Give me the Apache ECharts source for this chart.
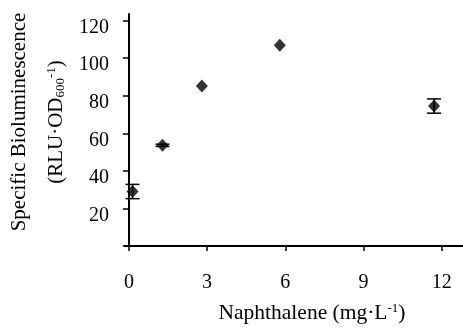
<!DOCTYPE html>
<html>
<head>
<meta charset="utf-8">
<script src="https://cdn.jsdelivr.net/npm/echarts@6/dist/echarts.min.js"></script>
<style>
  html, body { margin: 0; padding: 0; background: #fff; }
  #chart { width: 463px; height: 329px; }
</style>
</head>
<body>
<div id="chart"></div>
<script>
// naphthalene concentration (mg/L) and specific bioluminescence
const naphthalene = [0.14, 1.29, 2.8, 5.79, 11.71];
const bioluminescence = [29.0, 53.6, 85.2, 106.9, 74.5];
const errors = [3.8, 0.6, 0, 0, 3.8];
const xTicks = [0, 3, 6, 9, 12];
const yTicks = [0, 20, 40, 60, 80, 100, 120];

const font = 'Liberation Serif, Times New Roman, serif';

const chart = echarts.init(document.getElementById('chart'));

const points = naphthalene.map((x, i) => [x, bioluminescence[i]]);
const errData = naphthalene
  .map((x, i) => [x, bioluminescence[i] - errors[i], bioluminescence[i] + errors[i]])
  .filter((d, i) => errors[i] > 0);

chart.setOption({
  animation: false,
  backgroundColor: '#fff',
  grid: { left: 125, right: 0, top: 14, bottom: 76 },
  xAxis: {
    type: 'value',
    min: -0.15,
    max: 12.82,
    splitLine: { show: false },
    axisLine: { lineStyle: { color: '#000', width: 2 } },
    axisTick: { customValues: xTicks, length: 5, lineStyle: { color: '#000', width: 1.5 } },
    axisLabel: {
      customValues: xTicks,
      margin: 27,
      color: '#000',
      fontFamily: font,
      fontSize: 20
    },
    name: '{a|Naphthalene (mg·L}{sup|-1}{a|)}',
    nameLocation: 'middle',
    nameGap: 56,
    nameTextStyle: {
      padding: [0, 0, 0, 36],
      rich: {
        a: { fontFamily: font, fontSize: 21.5, color: '#000', lineHeight: 22 },
        sup: { fontFamily: font, fontSize: 13, color: '#000', lineHeight: 13, verticalAlign: 'top' }
      }
    }
  },
  yAxis: {
    type: 'value',
    min: 0,
    max: 123.5,
    splitLine: { show: false },
    axisLine: { lineStyle: { color: '#000', width: 2 } },
    axisTick: { customValues: yTicks, length: 6, lineStyle: { color: '#000', width: 1.5 } },
    axisLabel: {
      customValues: yTicks.slice(1),
      margin: 16,
      verticalAlign: 'top',
      lineHeight: 14,
      color: '#000',
      fontFamily: font,
      fontSize: 20
    },
    name: '{a|Specific Bioluminescence}\n{b|(RLU·OD}{sub|600}{sup|-1}{b|)}',
    nameLocation: 'middle',
    nameRotate: 90,
    nameGap: 58,
    nameTextStyle: {
      padding: [0, 0, 0, 16],
      rich: {
        a: { fontFamily: font, fontSize: 21, color: '#000', lineHeight: 52 },
        b: { fontFamily: font, fontSize: 21, color: '#000', lineHeight: 22 },
        sub: { fontFamily: font, fontSize: 13, color: '#000', lineHeight: 13, verticalAlign: 'bottom' },
        sup: { fontFamily: font, fontSize: 13, color: '#000', lineHeight: 13, verticalAlign: 'top' }
      }
    }
  },
  series: [
    {
      type: 'custom',
      data: errData,
      z: 1,
      renderItem: (params, api) => {
        const x = api.value(0);
        const lo = api.coord([x, api.value(1)]);
        const hi = api.coord([x, api.value(2)]);
        const half = 7;
        const style = { stroke: '#000', lineWidth: 1.5 };
        return {
          type: 'group',
          children: [
            { type: 'line', shape: { x1: lo[0], y1: lo[1], x2: hi[0], y2: hi[1] }, style },
            { type: 'line', shape: { x1: lo[0] - half, y1: lo[1], x2: lo[0] + half, y2: lo[1] }, style },
            { type: 'line', shape: { x1: hi[0] - half, y1: hi[1], x2: hi[0] + half, y2: hi[1] }, style }
          ]
        };
      }
    },
    {
      type: 'scatter',
      data: points,
      symbol: 'diamond',
      symbolSize: [12, 13],
      z: 2,
      itemStyle: { color: '#000' }
    }
  ]
});
</script>
</body>
</html>
